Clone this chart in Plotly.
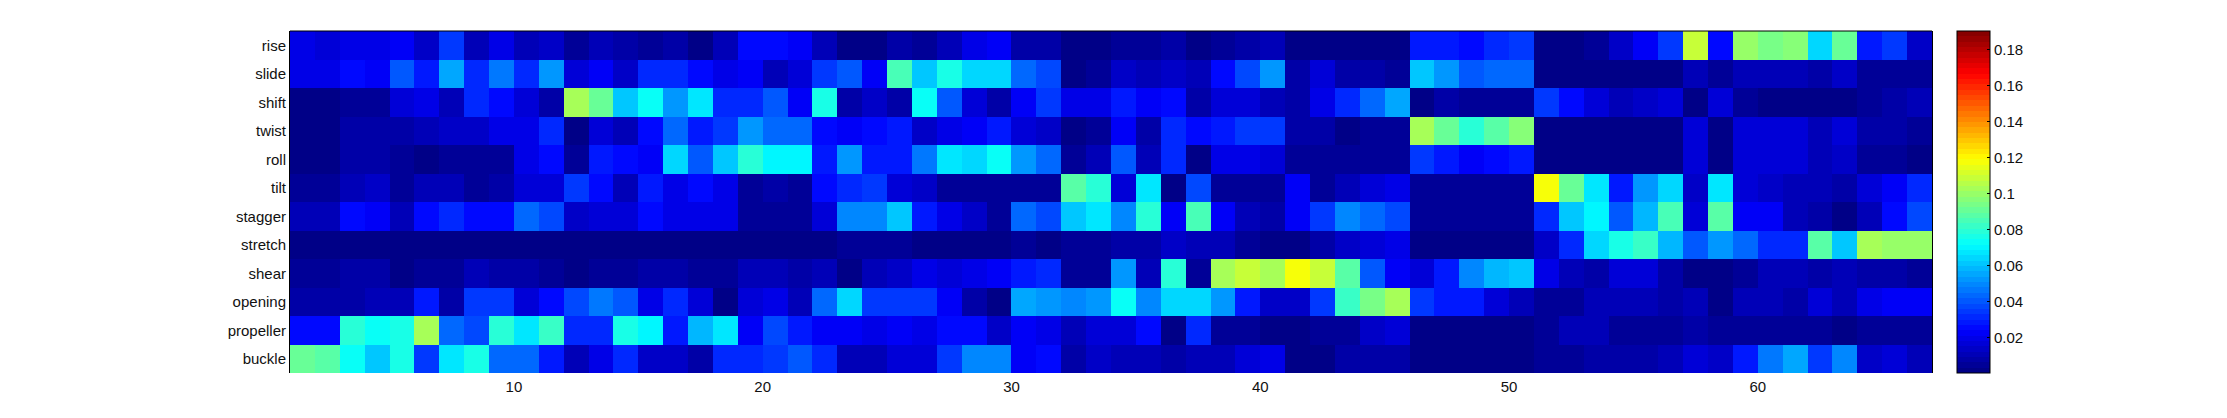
import plotly.graph_objects as go

labels = ["rise","slide","shift","twist","roll","tilt","stagger","stretch","shear","opening","propeller","buckle"]
x_edges = list(range(1, 68))
x_ticks = [10, 20, 30, 40, 50, 60]
cbar_ticks = [0.02, 0.04, 0.06, 0.08, 0.1, 0.12, 0.14, 0.16, 0.18]
z_min = 0.0005
z_max = 0.1905

rise = [.019,.017,.021,.021,.024,.013,.034,.012,.021,.012,.014,.004,.012,.009,.004,.008,.003,.012,.026,.026,.024,.011,
        .003,.003,.007,.006,.012,.020,.024,.008,.007,.003,.003,.006,.004,.007,.003,.006,.009,.012,.003,.003,.003,.003,
        .003,.030,.030,.026,.032,.036,.003,.003,.006,.014,.022,.034,.110,.027,.101,.094,.096,.063,.090,.030,.034,.014]
slide = [.019,.019,.025,.023,.040,.030,.054,.032,.047,.033,.053,.016,.024,.015,.033,.033,.025,.019,.024,.010,.018,.036,
         .040,.024,.084,.062,.076,.065,.065,.045,.038,.003,.005,.015,.010,.013,.010,.026,.037,.053,.009,.017,.009,.009,
         .004,.060,.052,.040,.044,.044,.003,.003,.003,.003,.003,.003,.011,.004,.012,.012,.012,.009,.013,.004,.004,.004]
shift = [.002,.002,.004,.006,.017,.021,.010,.031,.026,.018,.008,.102,.090,.062,.072,.053,.066,.031,.031,.040,.023,.076,
         .009,.015,.009,.072,.042,.017,.008,.024,.034,.020,.020,.030,.024,.027,.009,.016,.018,.010,.009,.021,.033,.045,
         .054,.003,.007,.006,.006,.004,.035,.027,.017,.010,.015,.018,.003,.018,.005,.003,.003,.003,.003,.006,.007,.010]
twist = [.002,.002,.007,.007,.009,.012,.015,.015,.021,.021,.032,.003,.016,.012,.027,.044,.030,.034,.052,.043,.045,.025,
         .024,.026,.030,.013,.020,.024,.030,.016,.015,.002,.006,.024,.009,.033,.026,.030,.035,.036,.007,.007,.002,.005,
         .005,.103,.090,.080,.087,.096,.002,.002,.002,.002,.002,.002,.017,.003,.018,.018,.018,.012,.017,.008,.007,.005]
roll = [.002,.002,.007,.007,.005,.001,.005,.006,.006,.020,.026,.005,.030,.027,.024,.063,.041,.060,.080,.070,.070,.030,
        .053,.029,.029,.047,.066,.063,.072,.053,.044,.006,.011,.040,.012,.031,.003,.020,.020,.017,.005,.005,.005,.005,
        .004,.034,.028,.024,.026,.029,.003,.003,.003,.003,.003,.003,.016,.003,.018,.018,.018,.010,.014,.006,.006,.003]
tilt = [.006,.006,.012,.014,.006,.010,.010,.006,.008,.016,.016,.036,.025,.011,.028,.021,.026,.020,.004,.009,.004,.025,
        .033,.036,.016,.014,.006,.006,.004,.004,.006,.088,.078,.016,.066,.002,.037,.006,.005,.004,.022,.004,.012,.016,
        .020,.004,.004,.004,.006,.005,.117,.090,.066,.029,.053,.063,.013,.066,.018,.015,.012,.010,.009,.017,.022,.033]
stagger = [.010,.010,.025,.022,.010,.027,.031,.025,.025,.044,.037,.013,.017,.018,.025,.019,.021,.021,.005,.005,.005,.016,
           .048,.048,.061,.030,.020,.014,.006,.043,.037,.061,.067,.048,.080,.022,.084,.022,.012,.007,.023,.034,.050,.045,
           .037,.006,.006,.006,.006,.004,.033,.061,.070,.042,.057,.085,.018,.088,.024,.022,.011,.009,.002,.012,.027,.038]
stretch = [.001,.001,.001,.001,.001,.001,.001,.001,.001,.001,.001,.003,.003,.003,.001,.001,.001,.001,.001,.001,.001,.001,
           .005,.005,.005,.001,.001,.001,.001,.005,.001,.006,.006,.009,.007,.014,.011,.011,.005,.003,.002,.007,.014,.017,
           .019,.002,.002,.002,.002,.002,.014,.033,.063,.077,.082,.057,.042,.053,.043,.032,.032,.087,.061,.103,.100,.100]
shear = [.005,.005,.007,.007,.002,.006,.006,.012,.008,.008,.004,.001,.004,.004,.007,.007,.005,.005,.012,.012,.007,.012,
         .003,.012,.013,.019,.017,.020,.024,.030,.032,.005,.006,.052,.012,.080,.006,.102,.108,.103,.119,.110,.089,.042,
         .024,.016,.028,.048,.059,.062,.020,.012,.009,.016,.016,.007,.002,.002,.004,.012,.012,.009,.012,.009,.009,.005]
opening = [.007,.007,.008,.011,.011,.030,.008,.034,.034,.017,.025,.039,.047,.041,.021,.031,.018,.002,.018,.021,.011,.045,
           .064,.034,.034,.034,.024,.008,.003,.055,.053,.048,.051,.072,.048,.064,.064,.053,.030,.014,.014,.035,.082,.095,
           .103,.034,.028,.028,.017,.012,.006,.006,.011,.011,.011,.008,.012,.003,.012,.010,.008,.016,.010,.020,.022,.024]
propeller = [.025,.025,.080,.072,.077,.103,.045,.037,.080,.067,.083,.033,.033,.076,.070,.030,.058,.066,.024,.039,.030,.024,
             .024,.021,.024,.021,.027,.027,.013,.024,.020,.012,.018,.016,.027,.002,.031,.006,.006,.003,.003,.005,.006,.015,
             .016,.003,.003,.003,.003,.003,.005,.010,.010,.004,.006,.006,.008,.006,.006,.006,.005,.004,.003,.006,.006,.006]
buckle = [.090,.087,.072,.060,.077,.034,.067,.076,.045,.045,.030,.010,.021,.031,.015,.015,.008,.033,.033,.036,.040,.031,
          .011,.011,.017,.017,.036,.048,.048,.024,.027,.009,.014,.011,.012,.008,.012,.012,.018,.021,.003,.003,.007,.009,
          .009,.003,.003,.003,.003,.003,.006,.006,.007,.007,.009,.011,.018,.013,.030,.047,.054,.035,.048,.015,.016,.010]

rows = [rise, slide, shift, twist, roll, tilt, stagger, stretch, shear, opening, propeller, buckle]
for r in rows:
    assert len(r) == len(x_edges) - 1, len(r)


def jet_level(i, n=64):
    t = (i + 0.5) / n
    f = lambda c: max(0.0, min(1.0, 1.5 - abs(4 * t - c)))
    return "rgb(%d,%d,%d)" % (round(255 * f(3)), round(255 * f(2)), round(255 * f(1)))


stepped = []
for i in range(64):
    stepped.append([i / 64, jet_level(i)])
    stepped.append([(i + 1) / 64, jet_level(i)])

font = dict(family="Liberation Sans, Arial, sans-serif", size=15, color="#111111")
PLOT_W = 2227 - 290 - 295
CB_X = 1.0152

fig = go.Figure(go.Heatmap(
    z=rows,
    x=x_edges,
    y=labels,
    zmin=z_min,
    zmax=z_max,
    colorscale=stepped,
    hoverongaps=False,
    colorbar=dict(
        x=CB_X, xanchor="left", xref="paper",
        y=0, yanchor="bottom", yref="paper",
        len=1, lenmode="fraction",
        thickness=33, thicknessmode="pixels",
        xpad=0, ypad=0,
        outlinecolor="black", outlinewidth=1,
        tickmode="array", tickvals=cbar_ticks,
        ticktext=["0.02", "0.04", "0.06", "0.08", "0.1", "0.12", "0.14", "0.16", "0.18"],
        ticks="inside", ticklen=3, tickwidth=1, tickcolor="black",
        tickfont=font,
    ),
))

# top border only: the reference has no line or ticks along the bottom
shapes = [dict(type="line", xref="paper", yref="paper", x0=0, x1=1, y0=1, y1=1,
               line=dict(color="black", width=1))]
# colorbar ticks on its left edge as well
for v in cbar_ticks:
    yy = (v - z_min) / (z_max - z_min)
    shapes.append(dict(type="line", xref="paper", yref="paper",
                       x0=CB_X, x1=CB_X + 3 / PLOT_W, y0=yy, y1=yy,
                       line=dict(color="black", width=1)))

fig.update_layout(
    width=2227, height=418,
    margin=dict(l=290, r=295, t=31, b=45, pad=0),
    paper_bgcolor="white", plot_bgcolor="white",
    font=font,
    shapes=shapes,
    xaxis=dict(
        range=[1, 67], tickmode="array", tickvals=x_ticks,
        ticks="", ticklabelstandoff=3,
        showgrid=False, zeroline=False, showline=False,
        tickfont=font,
    ),
    yaxis=dict(
        autorange="reversed", type="category",
        tickmode="array", tickvals=labels, ticktext=labels,
        ticks="",
        showgrid=False, zeroline=False,
        showline=True, linecolor="black", linewidth=1, mirror=True,
        tickfont=font,
    ),
)

fig.write_html("out.html", config=dict(displayModeBar=False),
               post_script="document.body.style.margin='0';document.body.style.overflow='hidden';")
